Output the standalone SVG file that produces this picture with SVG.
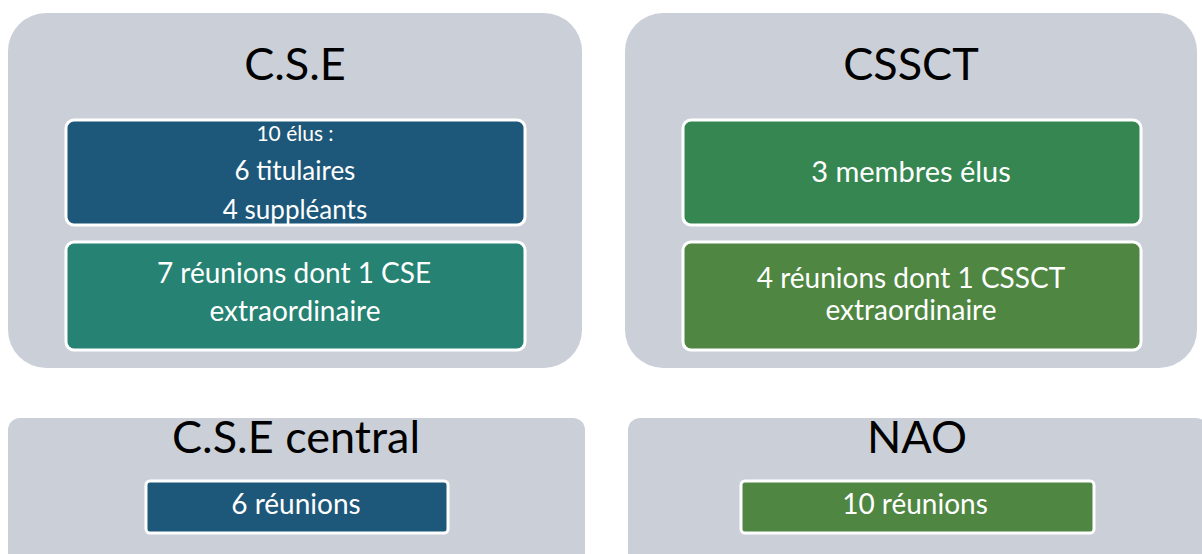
<svg xmlns="http://www.w3.org/2000/svg" width="1202" height="554" viewBox="0 0 1202 554">
<style>
.outer{fill:#CBD0D8}
.inner{stroke:#FFFFFF;stroke-width:3}
.title{font-family:"Lato","Open Sans",sans-serif;font-size:45px;fill:#000;text-anchor:middle}
.lbl{font-family:"Lato","Open Sans",sans-serif;fill:#FFFFFF;text-anchor:middle}
</style>
<rect width="1202" height="554" fill="#FFFFFF"/>
<g id="cse">
<rect class="outer" x="8" y="13" width="574" height="355" rx="38"/>
<text class="title" x="295" y="80">C.S.E</text>
<rect class="inner" x="66" y="120" width="459" height="105" rx="8" fill="#1D5779"/>
<text class="lbl" x="295" y="141" font-size="21">10 élus :</text>
<text class="lbl" x="295" y="180" font-size="26">6 titulaires</text>
<text class="lbl" x="295" y="219" font-size="26">4 suppléants</text>
<rect class="inner" x="66" y="242" width="459" height="108" rx="8" fill="#268272"/>
<text class="lbl" x="294" y="283" font-size="28">7 réunions dont 1 CSE</text>
<text class="lbl" x="295" y="321" font-size="28">extraordinaire</text>
</g>
<g id="cssct">
<rect class="outer" x="625" y="13" width="572" height="355" rx="38"/>
<text class="title" x="911" y="80">CSSCT</text>
<rect class="inner" x="683" y="120" width="458" height="105" rx="8" fill="#358651"/>
<text class="lbl" x="911" y="182" font-size="29">3 membres élus</text>
<rect class="inner" x="683" y="242" width="458" height="108" rx="8" fill="#4E8642"/>
<text class="lbl" x="911" y="288" font-size="28">4 réunions dont 1 CSSCT</text>
<text class="lbl" x="911" y="320" font-size="28">extraordinaire</text>
</g>
<g id="cse-central">
<rect class="outer" x="8" y="418" width="577" height="150" rx="12"/>
<text class="title" x="296" y="453" font-size="48">C.S.E central</text>
<rect class="inner" x="146" y="481" width="302" height="52" rx="4" fill="#1D5779"/>
<text class="lbl" x="296" y="514" font-size="28">6 réunions</text>
</g>
<g id="nao">
<rect class="outer" x="628" y="418" width="580" height="150" rx="12"/>
<text class="title" x="917" y="453">NAO</text>
<rect class="inner" x="741" y="481" width="353" height="52" rx="4" fill="#4E8642"/>
<text class="lbl" x="915" y="514" font-size="28">10 réunions</text>
</g>
<g id="connectors"/>
</svg>
